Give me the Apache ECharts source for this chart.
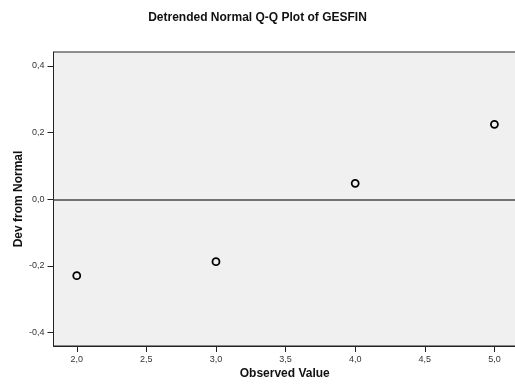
<!DOCTYPE html>
<html>
<head>
<meta charset="utf-8">
<script src="https://cdn.jsdelivr.net/npm/echarts@6/dist/echarts.min.js"></script>
<style>
  html, body { margin: 0; padding: 0; background: #fff; }
  #chart { width: 515px; height: 387px; }
</style>
</head>
<body>
<div id="chart"></div>
<script>
// Observed values and their deviation from the expected normal quantile
const observed = [2.0, 3.0, 4.0, 5.0];
const deviation = [-0.229, -0.187, 0.048, 0.225];
const xTicks = [2.0, 2.5, 3.0, 3.5, 4.0, 4.5, 5.0];
const yTicks = [-0.4, -0.2, 0.0, 0.2, 0.4];

const fmt = v => Number(v).toFixed(1).replace('.', ',');
const font = 'Liberation Sans, Arial, sans-serif';

const chart = echarts.init(document.getElementById('chart'), null, { renderer: 'canvas' });
chart.setOption({
  animation: false,
  backgroundColor: '#ffffff',
  title: {
    text: 'Detrended Normal Q-Q Plot of GESFIN',
    left: 'center',
    top: 7,
    textStyle: { fontFamily: font, fontSize: 12, fontWeight: 'bold', color: '#111' }
  },
  grid: {
    left: 53.5, right: -1, top: 52, bottom: 41,
    outerBoundsMode: 'none',
    containLabel: false,
    show: true, backgroundColor: '#f0f0f0',
    borderColor: '#222', borderWidth: 1
  },
  xAxis: {
    type: 'value',
    min: 1.833, max: 5.155,
    name: 'Observed Value',
    nameLocation: 'middle',
    nameGap: 22,
    nameMoveOverlap: false,
    nameTextStyle: { fontFamily: font, fontSize: 12, fontWeight: 'bold', color: '#111' },
    axisLine: { show: true, onZero: false, lineStyle: { color: '#222', width: 1 } },
    axisTick: { show: true, length: 6, customValues: xTicks, lineStyle: { color: '#222' } },
    axisLabel: { customValues: xTicks, formatter: fmt, margin: 9, fontFamily: font, fontSize: 9, color: '#333' },
    splitLine: { show: false }
  },
  yAxis: {
    type: 'value',
    min: -0.44, max: 0.442,
    name: 'Dev from Normal',
    nameLocation: 'middle',
    nameGap: 29,
    nameMoveOverlap: false,
    nameTextStyle: { fontFamily: font, fontSize: 12, fontWeight: 'bold', color: '#111' },
    axisLine: { show: true, onZero: false, lineStyle: { color: '#222', width: 1 } },
    axisTick: { show: true, length: 6, customValues: yTicks, lineStyle: { color: '#222' } },
    axisLabel: { customValues: yTicks, formatter: fmt, margin: 9, fontFamily: font, fontSize: 9, color: '#333' },
    splitLine: { show: false }
  },
  series: [{
    type: 'scatter',
    data: observed.map((x, i) => [x, deviation[i]]),
    symbol: 'circle',
    symbolSize: 7,
    itemStyle: { color: '#f0f0f0', borderColor: '#000', borderWidth: 1.8, opacity: 1 },
    markLine: {
      silent: true,
      symbol: ['none', 'none'],
      label: { show: false },
      lineStyle: { color: '#4a4a4a', width: 1.5, type: 'solid' },
      data: [{ yAxis: 0 }]
    },
    z: 5
  }]
});
</script>
</body>
</html>
